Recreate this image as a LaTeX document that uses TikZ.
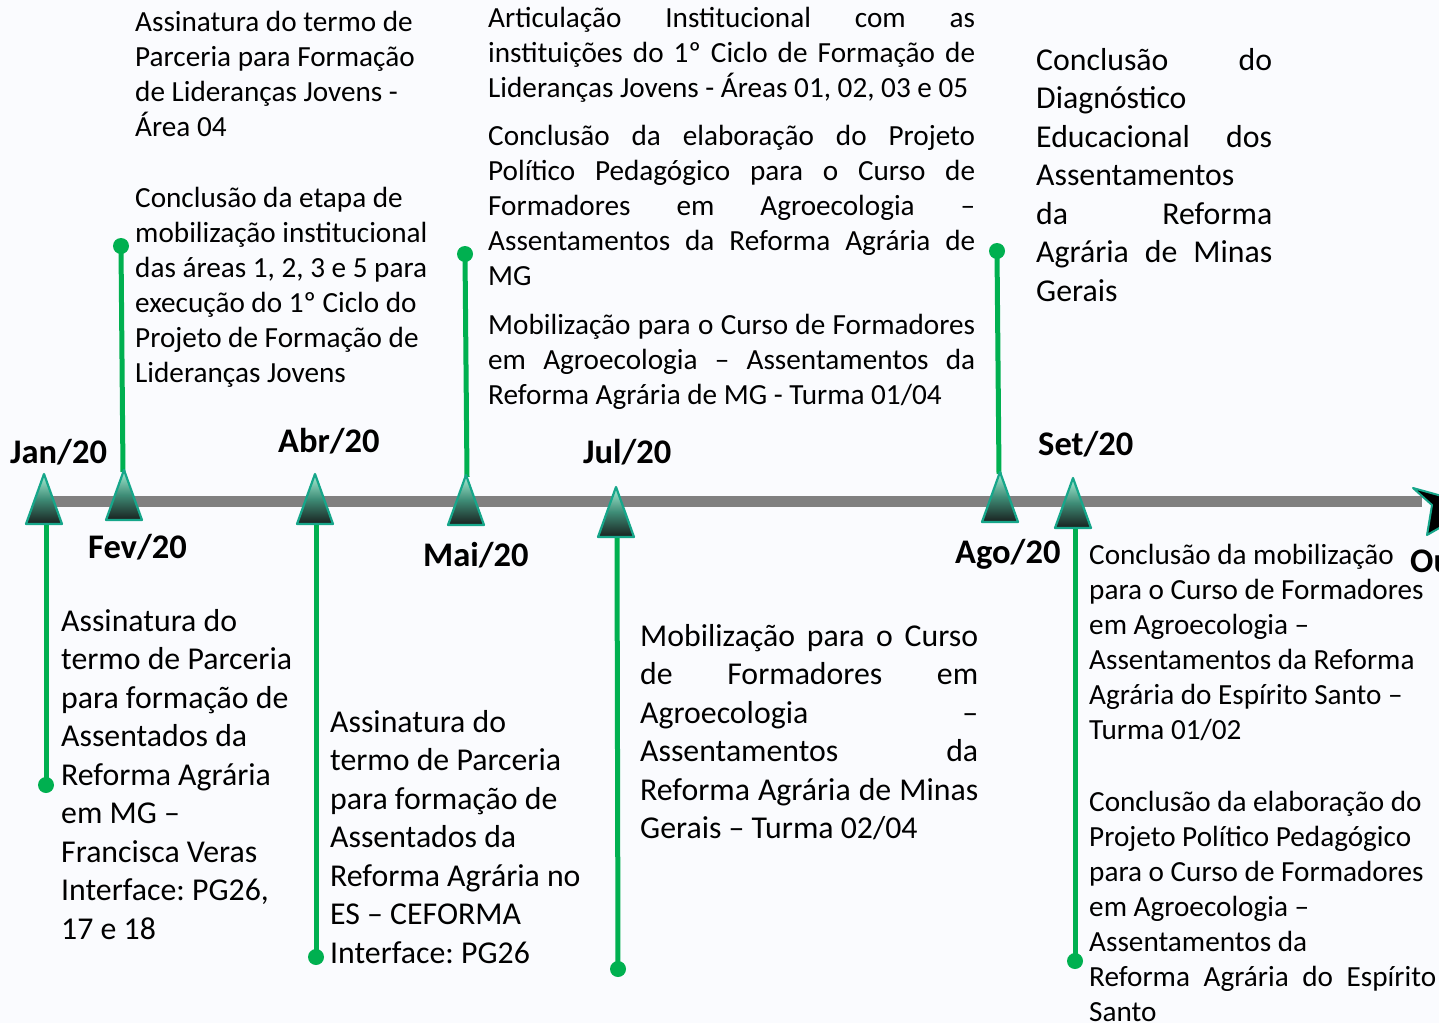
\documentclass[tikz,border=0pt]{standalone}
\usepackage{fontspec}
\setmainfont{Carlito}
\definecolor{bg}{RGB}{250,251,254}
\definecolor{gr}{RGB}{0,176,80}
\definecolor{axisgray}{RGB}{128,128,128}
\definecolor{tealedge}{RGB}{22,166,138}
\definecolor{trtop}{RGB}{170,240,215}
\definecolor{trmid}{RGB}{62,140,118}
\definecolor{trbot}{RGB}{25,32,30}
\newcommand\tline[1]{\hbox{#1}}
\newcommand\jline[2]{\hbox to #1{#2}}
\frenchspacing
\tikzset{
  gline/.style={draw=gr, line width=5pt},
  gdot/.style={circle, fill=gr, minimum size=16pt, inner sep=0pt},
  tri/.style={draw=tealedge, line width=2.2pt, line join=round, top color=trtop, bottom color=trbot, middle color=trmid},
  body/.style={anchor=base west, inner sep=0pt, font=\fontsize{29.2}{35}\selectfont},
  bodyL/.style={anchor=base west, inner sep=0pt, font=\fontsize{31.8}{38.5}\selectfont},
  month/.style={anchor=base west, inner sep=0pt, font=\bfseries\fontsize{34.5}{40}\selectfont},
}
\newcommand\marker[3]{%
  \coordinate (#1A) at (#2,#3);
  \coordinate (#1B) at (#2,#3+50);
  \shade[tri] (#2,#3) -- (#2+18,#3+50) -- (#2-18,#3+50) -- cycle;}
\begin{document}
\begin{tikzpicture}[x=1pt,y=-1pt]
\useasboundingbox (0,0) rectangle (1439,1023);
\fill[bg] (0,0) rectangle (1439,1023);
\clip (0,0) rectangle (1439,1023);

% axis
\coordinate (axL) at (44,501);
\coordinate (axR) at (1422,501);
\draw[axisgray, line width=11pt] (axL) -- (axR);
\filldraw[fill=black, draw=tealedge, line width=2pt, line join=round]
  (1413,488) -- (1478,506) -- (1427,535) -- (1432,505) -- cycle;

% dots
\node[gdot] (fevDot) at (121,246) {};
\node[gdot] (maiDot) at (465,254) {};
\node[gdot] (agoDot) at (997,251) {};
\node[gdot] (janDot) at (46,785) {};
\node[gdot] (abrDot) at (316,957) {};
\node[gdot] (julDot) at (618,969) {};
\node[gdot] (setDot) at (1075,961) {};

% connectors (drawn before markers)
\coordinate (fevTop) at (123,472);
\coordinate (maiTop) at (467,477);
\coordinate (agoTop) at (999,474);
\coordinate (janBot) at (46,524);
\coordinate (abrBot) at (316,524);
\coordinate (julBot) at (617,537);
\coordinate (setBot) at (1075,527);
\draw[gline] (fevDot.center) -- (fevTop);
\draw[gline] (maiDot.center) -- (maiTop);
\draw[gline] (agoDot.center) -- (agoTop);
\draw[gline] (janBot) -- (janDot.center);
\draw[gline] (abrBot) -- (abrDot.center);
\draw[gline] (julBot) -- (julDot.center);
\draw[gline] (setBot) -- (setDot.center);

% markers
\marker{jan}{44}{474}
\marker{fev}{124}{470}
\marker{abr}{315}{474}
\marker{mai}{466}{475}
\marker{jul}{616}{487}
\marker{ago}{1000}{472}
\marker{set}{1073}{478}

% month labels
\node[month] (janL) at (10,463) {Jan/20};
\node[month] (fevL) at (88,558) {Fev/20};
\node[month] (abrL) at (278,452) {Abr/20};
\node[month] (maiL) at (423,566) {Mai/20};
\node[month] (julL) at (583,463) {Jul/20};
\node[month] (agoL) at (955,563) {Ago/20};
\node[month] (setL) at (1038,455) {Set/20};
\node[month] (outL) at (1410,572) {Out/20};

% texts above
\node[body] (fevTxtA) at (135,31) {\vtop{%
  \tline{Assinatura do termo de}
  \tline{Parceria para Formação}
  \tline{de Lideranças Jovens -}
  \tline{Área 04}}};
\node[body] (fevTxtB) at (135,207) {\vtop{%
  \tline{Conclusão da etapa de}
  \tline{mobilização institucional}
  \tline{das áreas 1, 2, 3 e 5 para}
  \tline{execução do 1º Ciclo do}
  \tline{Projeto de Formação de}
  \tline{Lideranças Jovens}}};

\node[body] (maiTxtA) at (488,27) {\vtop{%
  \jline{487pt}{Articulação Institucional com as}
  \jline{487pt}{instituições do 1º Ciclo de Formação de}
  \tline{Lideranças Jovens - Áreas 01, 02, 03 e 05}}};
\node[body] (maiTxtB) at (488,145) {\vtop{%
  \jline{487pt}{Conclusão da elaboração do Projeto}
  \jline{487pt}{Político Pedagógico para o Curso de}
  \jline{487pt}{Formadores em Agroecologia –}
  \jline{487pt}{Assentamentos da Reforma Agrária de}
  \tline{MG}}};
\node[body] (maiTxtC) at (488,334) {\vtop{%
  \jline{487pt}{Mobilização para o Curso de Formadores}
  \jline{487pt}{em Agroecologia – Assentamentos da}
  \tline{Reforma Agrária de MG - Turma 01/04}}};

\node[bodyL] (agoTxt) at (1036,70) {\vtop{%
  \jline{236pt}{Conclusão do}
  \tline{Diagnóstico}
  \jline{236pt}{Educacional dos}
  \tline{Assentamentos}
  \jline{236pt}{da Reforma}
  \jline{236pt}{Agrária de Minas}
  \tline{Gerais}}};

% texts below
\node[bodyL] (janTxt) at (61,631) {\vtop{%
  \tline{Assinatura do}
  \tline{termo de Parceria}
  \tline{para formação de}
  \tline{Assentados da}
  \tline{Reforma Agrária}
  \tline{em MG –}
  \tline{Francisca Veras}
  \tline{Interface: PG26,}
  \tline{17 e 18}}};

\node[bodyL] (abrTxt) at (330,732) {\vtop{%
  \tline{Assinatura do}
  \tline{termo de Parceria}
  \tline{para formação de}
  \tline{Assentados da}
  \tline{Reforma Agrária no}
  \tline{ES – CEFORMA}
  \tline{Interface: PG26}}};

\node[bodyL] (julTxt) at (640,646) {\vtop{%
  \jline{338pt}{Mobilização para o Curso}
  \jline{338pt}{de Formadores em}
  \jline{338pt}{Agroecologia –}
  \jline{338pt}{Assentamentos da}
  \jline{338pt}{Reforma Agrária de Minas}
  \tline{Gerais – Turma 02/04}}};

\node[body] (setTxtA) at (1089,564) {\vtop{%
  \tline{Conclusão da mobilização}
  \tline{para o Curso de Formadores}
  \tline{em Agroecologia –}
  \tline{Assentamentos da Reforma}
  \tline{Agrária do Espírito Santo –}
  \tline{Turma 01/02}}};
\node[body] (setTxtB) at (1089,811) {\vtop{%
  \tline{Conclusão da elaboração do}
  \tline{Projeto Político Pedagógico}
  \tline{para o Curso de Formadores}
  \tline{em Agroecologia –}
  \tline{Assentamentos da}
  \jline{347pt}{Reforma Agrária do Espírito}
  \tline{Santo}}};
\end{tikzpicture}
\end{document}
